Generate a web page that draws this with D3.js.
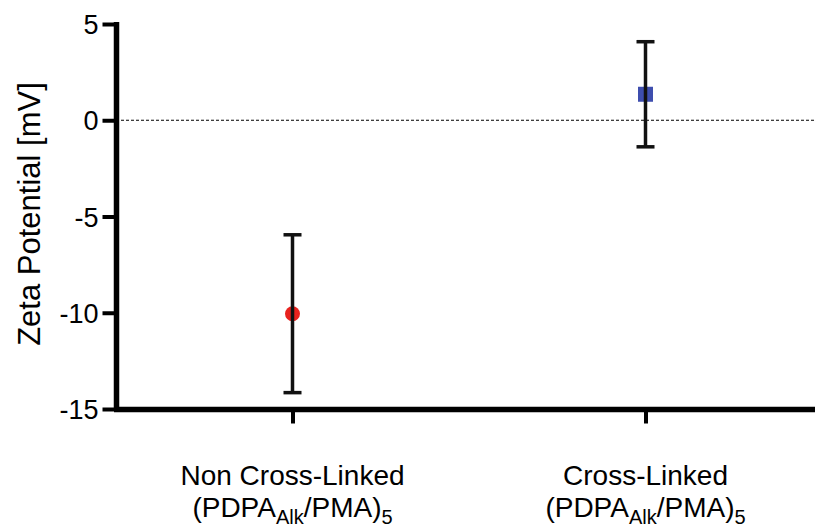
<!DOCTYPE html>
<html>
<head>
<meta charset="utf-8">
<script src="https://cdn.jsdelivr.net/npm/d3@7"></script>
<style>
  body { margin: 0; background: #fff; }
  text { font-family: "Liberation Sans", Arial, sans-serif; fill: #000; }
</style>
</head>
<body>
<svg id="chart" width="815" height="530"></svg>
<script>
// data
var groups = ["Non Cross-Linked", "Cross-Linked"]
var means = [-10.05, 1.35]
var errs = [4.1, 2.73]
var colors = ["#e8221e", "#3e4eae"]
var shapes = ["circle", "square"]
var yTicks = [5, 0, -5, -10, -15]

var svg = d3.select("#chart")

var x = d3.scalePoint().domain(groups).range([116, 822]).padding(0.5)
var y = d3.scaleLinear().domain([-15, 5]).range([409, 24])

// dashed zero line
svg.append("line")
  .attr("x1", 116).attr("x2", 815)
  .attr("y1", y(0)).attr("y2", y(0))
  .attr("stroke", "#000").attr("stroke-width", 1)
  .attr("stroke-dasharray", "3,2")

// y axis
var yAxis = svg.append("g")
  .attr("transform", "translate(116.5,0)")
  .call(d3.axisLeft(y).tickValues(yTicks).tickSize(14).tickSizeOuter(0).tickPadding(4)
    .tickFormat(function(d) { return String(d) }))
yAxis.select(".domain").attr("stroke-width", 5.5).attr("d", "M0," + (y(5) - 2) + "V" + (y(-15) + 2))
yAxis.selectAll(".tick line").attr("stroke-width", 4)
yAxis.selectAll(".tick text")
  .style("font-size", "27px")
  .style("font-family", "'Liberation Sans', Arial, sans-serif")
  .attr("dy", "0.36em")

// x axis
var xAxis = svg.append("g")
  .attr("transform", "translate(0,409.5)")
  .call(d3.axisBottom(x).tickSize(14).tickSizeOuter(0).tickFormat(""))
xAxis.select(".domain").attr("stroke-width", 5.5).attr("d", "M114,0H815")
xAxis.selectAll(".tick line").attr("stroke-width", 4)

// x labels with subscripts (one text per group)
groups.forEach(function(g) {
  var t = svg.append("text")
    .attr("text-anchor", "middle")
    .style("font-size", "28px")
  t.append("tspan").attr("x", x(g)).attr("y", 485).text(g)
  var l2 = t.append("tspan").attr("x", x(g)).attr("y", 517)
  l2.append("tspan").text("(PDPA")
  l2.append("tspan").attr("dy", 7).style("font-size", "20px").text("Alk")
  l2.append("tspan").attr("dy", -7).text("/PMA)")
  l2.append("tspan").attr("dy", 7).style("font-size", "20px").text("5")
})

// y title
svg.append("text")
  .attr("transform", "translate(40,214) rotate(-90)")
  .attr("text-anchor", "middle")
  .style("font-size", "31px")
  .text("Zeta Potential [mV]")

// markers
groups.forEach(function(g, i) {
  if (shapes[i] == "circle") {
    svg.append("circle")
      .attr("cx", x(g)).attr("cy", y(means[i])).attr("r", 7.5)
      .attr("fill", colors[i])
  } else {
    svg.append("rect")
      .attr("x", x(g) - 7.5).attr("y", y(means[i]) - 7.5)
      .attr("width", 15).attr("height", 15)
      .attr("fill", colors[i])
  }
})

// error bars on top
var bars = svg.append("g").attr("stroke", "#111").attr("stroke-width", 3.5)
groups.forEach(function(g, i) {
  var cx = x(g)
  var top = y(means[i] + errs[i]), bot = y(means[i] - errs[i])
  bars.append("line").attr("x1", cx).attr("x2", cx).attr("y1", top).attr("y2", bot)
  bars.append("line").attr("x1", cx - 9).attr("x2", cx + 9).attr("y1", top).attr("y2", top)
  bars.append("line").attr("x1", cx - 9).attr("x2", cx + 9).attr("y1", bot).attr("y2", bot)
})
</script>
</body>
</html>
